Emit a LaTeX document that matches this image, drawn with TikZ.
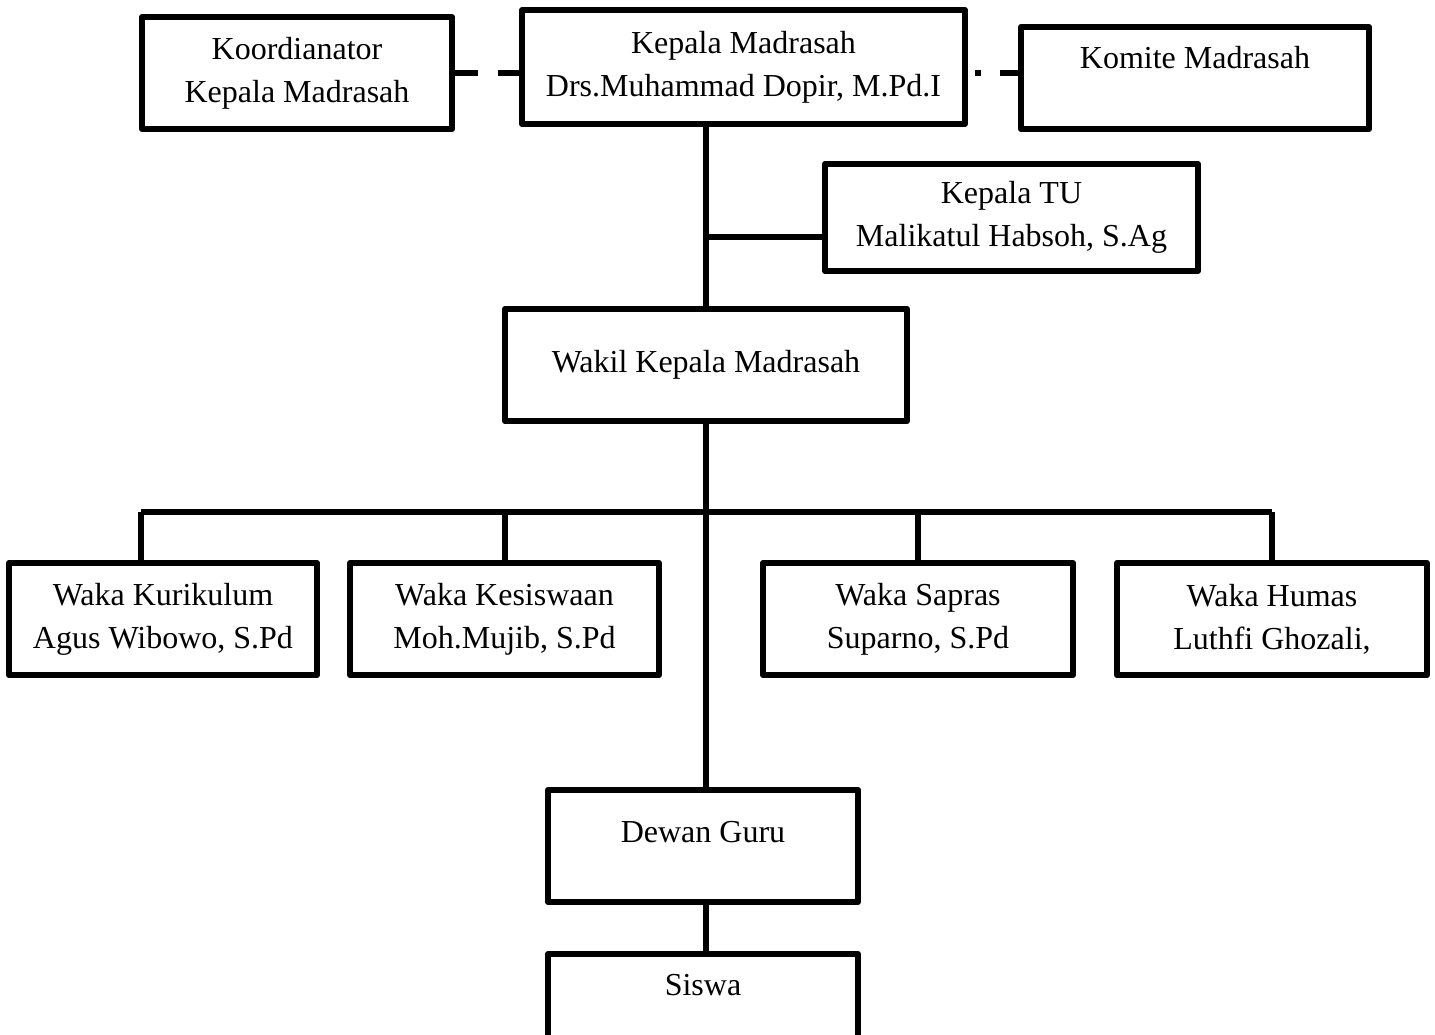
\documentclass[tikz,border=0pt]{standalone}
\usepackage{fontspec}
\setmainfont{Liberation Serif}
\begin{document}
\begin{tikzpicture}[x=1pt,y=-1pt,
  box/.style={draw, line width=6pt, line join=round, inner sep=0pt, align=center,
    font=\fontsize{32}{43}\selectfont},
  onebox/.style={draw, line width=6pt, line join=round, inner sep=0pt,
    font=\fontsize{32}{43}\selectfont},
  link/.style={line width=6pt}]
\useasboundingbox (0,0) rectangle (1435,1035);
% top row
\node[box, minimum width=310pt, minimum height=112pt] (koord) at (297,73) {Koordianator\\Kepala Madrasah};
\node[box, minimum width=443pt, minimum height=114pt] (kepala) at (743.5,67) {Kepala Madrasah\\Drs.Muhammad Dopir, M.Pd.I};
\node[onebox, minimum width=348pt, text height=42pt, text depth=60pt] (komite) at (1195,78) {Komite Madrasah};
% TU
\node[box, minimum width=373pt, minimum height=107pt] (tu) at (1011.5,217.5) {Kepala TU\\Malikatul Habsoh, S.Ag};
% wakil
\node[box, minimum width=402pt, minimum height=112pt] (wakil) at (706,365) {Wakil Kepala Madrasah};
% waka row
\node[box, minimum width=308pt, minimum height=112pt] (kur) at (163,619) {Waka Kurikulum\\Agus Wibowo, S.Pd};
\node[box, minimum width=309pt, minimum height=112pt] (kes) at (504.5,619) {Waka Kesiswaan\\Moh.Mujib, S.Pd};
\node[box, minimum width=310pt, minimum height=112pt] (sap) at (918,619) {Waka Sapras\\Suparno, S.Pd};
\node[box, minimum width=310pt, minimum height=112pt] (hum) at (1272,619) {Waka Humas\\Luthfi Ghozali,};
% dewan guru & siswa
\node[onebox, minimum width=310pt, text height=52pt, text depth=60pt] (dewan) at (703,846) {Dewan Guru};
\node[onebox, minimum width=310pt, text height=41pt, text depth=66pt] (siswa) at (703,1007.5) {Siswa};
% dashed links
\draw[link, dash pattern=on 23pt off 20pt] (koord.east) -- (kepala.west |- koord.east);
\draw[link, dash pattern=on 0pt off 7pt on 6pt off 19pt on 60pt] (kepala.east |- koord.east) -- (komite.west |- koord.east);
% spine
\coordinate (bar) at (706,512);
\draw[link] (wakil.north |- kepala.south) -- (wakil.north);
\draw[link] ([yshift=-20pt]tu.west) -- ([yshift=-20pt]tu.west -| wakil.north);
\draw[link] (wakil.south) -- (wakil.south |- dewan.north);
\draw[link] (wakil.south |- dewan.south) -- (wakil.south |- siswa.north);
% bar and drops
\draw[link] ([xshift=-22pt]kur.north |- bar) -- (hum.north |- bar);
\draw[link] ([xshift=-22pt]kur.north |- bar) -- ([xshift=-22pt]kur.north);
\draw[link] (kes.north |- bar) -- (kes.north);
\draw[link] (sap.north |- bar) -- (sap.north);
\draw[link] (hum.north |- bar) -- (hum.north);
\end{tikzpicture}
\end{document}
